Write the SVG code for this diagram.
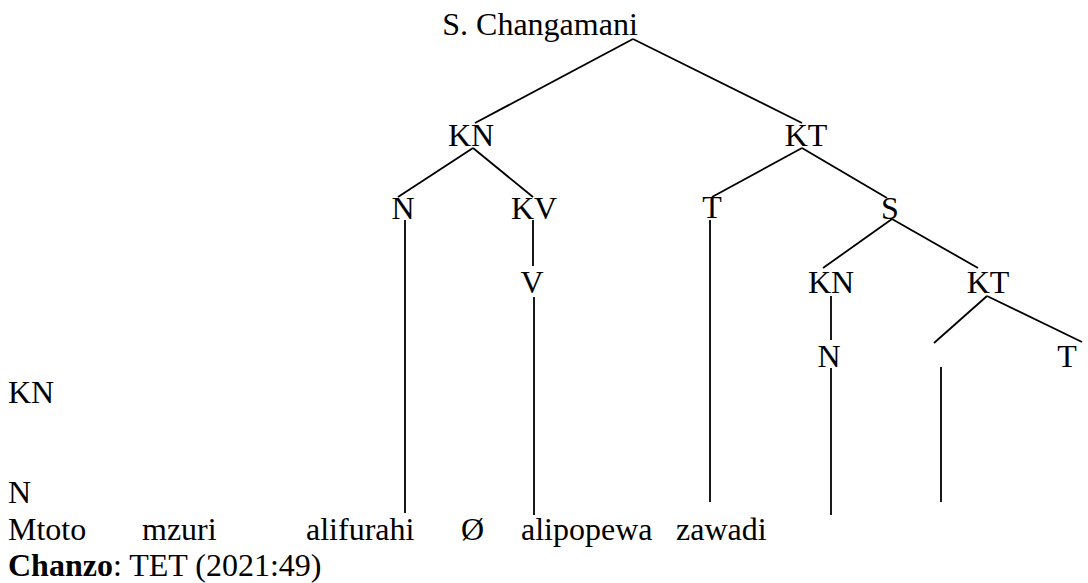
<svg xmlns="http://www.w3.org/2000/svg" width="1088" height="583" viewBox="0 0 1088 583">
<style>
text{font-size:32px;fill:#000}
.c{text-anchor:middle}
.e line{stroke:#000;stroke-width:1.8;stroke-linecap:butt}
</style>
<rect width="1088" height="583" fill="#fff"/>
<g class="e" id="connectors">
<line x1="633" y1="39" x2="475" y2="123"/>
<line x1="633" y1="39" x2="802" y2="123"/>
<line x1="473" y1="148" x2="398" y2="197"/>
<line x1="473" y1="148" x2="533" y2="197"/>
<line x1="405" y1="220" x2="405" y2="513"/>
<line x1="533" y1="220" x2="533" y2="266"/>
<line x1="534" y1="297" x2="534" y2="515"/>
<line x1="802" y1="148" x2="712" y2="197"/>
<line x1="802" y1="148" x2="887" y2="198"/>
<line x1="710" y1="220" x2="710" y2="502"/>
<line x1="892" y1="219" x2="823" y2="268"/>
<line x1="892" y1="219" x2="978" y2="268"/>
<line x1="831" y1="296" x2="831" y2="340"/>
<line x1="831" y1="368" x2="831" y2="515"/>
<line x1="987" y1="296" x2="934" y2="343"/>
<line x1="987" y1="296" x2="1082" y2="342"/>
<line x1="941" y1="367" x2="941" y2="502"/>
</g>
<g font-family="'Liberation Serif', 'Times New Roman', 'DejaVu Serif', serif">
<g id="root"><text class="c" x="540" y="35">S. Changamani</text></g>
<g id="kn1"><text class="c" x="471" y="146">KN</text></g>
<g id="kt1"><text class="c" x="806" y="146">KT</text></g>
<g id="n1"><text class="c" x="403" y="219">N</text></g>
<g id="kv"><text class="c" x="534" y="219">KV</text></g>
<g id="t1"><text class="c" x="712" y="218">T</text></g>
<g id="s2"><text class="c" x="890" y="219">S</text></g>
<g id="v"><text class="c" x="532" y="293">V</text></g>
<g id="kn2"><text class="c" x="831" y="293">KN</text></g>
<g id="kt2"><text class="c" x="988" y="293">KT</text></g>
<g id="n2"><text class="c" x="829" y="367">N</text></g>
<g id="t2"><text class="c" x="1067" y="367">T</text></g>
<g id="leftkn"><text x="8" y="403">KN</text></g>
<g id="leftn"><text x="8" y="503">N</text></g>
<g id="words">
<text x="8" y="540">Mtoto</text>
<text x="142" y="540">mzuri</text>
<text x="306" y="540">alifurahi</text>
<text x="461" y="540">Ø</text>
<text x="521" y="540">alipopewa</text>
<text x="676" y="540">zawadi</text>
</g>
<g id="source"><text x="8" y="576"><tspan font-weight="bold">Chanzo</tspan>: TET (2021:49)</text></g>
</g>
</svg>
